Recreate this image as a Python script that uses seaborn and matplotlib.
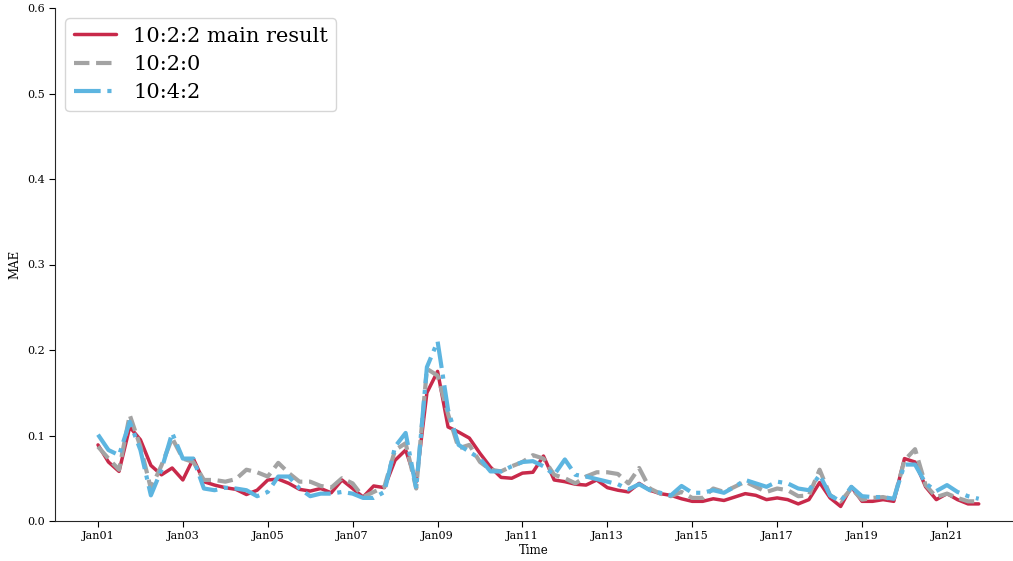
import numpy as np
import pandas as pd
import matplotlib
matplotlib.use("Agg")
import matplotlib.pyplot as plt
import matplotlib.dates as mdates
import seaborn as sns

# Quarterly evaluation dates, 2001Q1 - 2021Q4
dates = pd.date_range("2001-01-01", periods=84, freq="QS")

# Mean absolute error for each split ratio
mae_main = [
    0.089, 0.069, 0.058, 0.110, 0.095, 0.065, 0.054, 0.062, 0.048, 0.073,
    0.046, 0.042, 0.039, 0.037, 0.031, 0.036, 0.048, 0.049, 0.044, 0.037,
    0.035, 0.038, 0.033, 0.048, 0.038, 0.028, 0.041, 0.039, 0.071, 0.083,
    0.046, 0.150, 0.175, 0.110, 0.104, 0.097, 0.079, 0.063, 0.051, 0.050,
    0.056, 0.057, 0.076, 0.048, 0.046, 0.043, 0.042, 0.048, 0.039, 0.036,
    0.034, 0.044, 0.036, 0.032, 0.030, 0.026, 0.023, 0.023, 0.026, 0.024,
    0.028, 0.032, 0.030, 0.025, 0.027, 0.025, 0.020, 0.025, 0.045, 0.027,
    0.017, 0.040, 0.023, 0.023, 0.025, 0.023, 0.073, 0.069, 0.040, 0.025,
    0.032, 0.025, 0.020, 0.020,
]
mae_1020 = [
    0.087, 0.073, 0.060, 0.124, 0.087, 0.038, 0.065, 0.097, 0.073, 0.069,
    0.048, 0.048, 0.046, 0.049, 0.060, 0.057, 0.052, 0.068, 0.056, 0.046,
    0.046, 0.041, 0.039, 0.050, 0.044, 0.028, 0.034, 0.040, 0.083, 0.091,
    0.038, 0.178, 0.170, 0.125, 0.085, 0.089, 0.069, 0.060, 0.058, 0.064,
    0.069, 0.077, 0.073, 0.054, 0.050, 0.044, 0.052, 0.057, 0.057, 0.055,
    0.044, 0.062, 0.038, 0.032, 0.029, 0.034, 0.027, 0.027, 0.038, 0.034,
    0.040, 0.046, 0.040, 0.034, 0.038, 0.036, 0.029, 0.030, 0.060, 0.030,
    0.023, 0.038, 0.025, 0.027, 0.028, 0.025, 0.071, 0.084, 0.042, 0.028,
    0.032, 0.027, 0.023, 0.023,
]
mae_1042 = [
    0.101, 0.083, 0.077, 0.116, 0.083, 0.030, 0.060, 0.103, 0.073, 0.073,
    0.038, 0.036, 0.039, 0.038, 0.036, 0.029, 0.034, 0.052, 0.052, 0.038,
    0.029, 0.032, 0.032, 0.034, 0.032, 0.027, 0.027, 0.034, 0.087, 0.103,
    0.038, 0.180, 0.210, 0.130, 0.089, 0.081, 0.073, 0.058, 0.058, 0.064,
    0.069, 0.070, 0.064, 0.054, 0.072, 0.054, 0.052, 0.049, 0.046, 0.043,
    0.037, 0.043, 0.036, 0.033, 0.030, 0.041, 0.033, 0.033, 0.036, 0.033,
    0.040, 0.048, 0.044, 0.040, 0.046, 0.044, 0.038, 0.036, 0.054, 0.030,
    0.023, 0.040, 0.029, 0.028, 0.028, 0.026, 0.066, 0.066, 0.044, 0.035,
    0.042, 0.034, 0.029, 0.026,
]

series_labels = ["10:2:2 main result", "10:2:0", "10:4:2"]
series_colors = ["#C8294A", "#A3A3A3", "#5DB5E0"]
series_styles = ["-", "--", "-."]
series_widths = [2.5, 3.0, 3.0]

# Date ticks every other January, starting 2001
tick_dates = pd.date_range("2001-01-01", "2021-01-01", freq="2YS")
y_ticks = [0.0, 0.1, 0.2, 0.3, 0.4, 0.5, 0.6]

sns.set_style("ticks")
plt.rcParams["font.family"] = ["DejaVu Serif"]
plt.rcParams["text.color"] = "black"
plt.rcParams["axes.labelcolor"] = "black"
plt.rcParams["xtick.color"] = "black"
plt.rcParams["ytick.color"] = "black"

fig = plt.figure(figsize=(10.13, 5.61), dpi=100)
ax = fig.add_axes([55 / 1013, 1 - 521 / 561, (1012 - 55) / 1013, (521 - 8) / 561])

for values, label, color, ls, lw in zip(
    [mae_main, mae_1020, mae_1042], series_labels, series_colors, series_styles, series_widths
):
    sns.lineplot(x=dates, y=values, ax=ax, label=label, color=color,
                 linestyle=ls, linewidth=lw)

sns.despine(ax=ax)

# x limits: Jan01 sits 43 px in from the left spine (about 42.45 px per year)
left = mdates.date2num(pd.Timestamp("2001-01-01")) - 43 / 42.45 * 365.25
right = mdates.date2num(pd.Timestamp("2021-01-01")) + 65 / 42.45 * 365.25
ax.set_xlim(left, right)
ax.set_ylim(0, 0.6)
ax.set_yticks(y_ticks)
ax.yaxis.set_major_formatter(matplotlib.ticker.FormatStrFormatter("%.1f"))

ax.set_xticks(mdates.date2num(tick_dates))
ax.xaxis.set_major_formatter(mdates.DateFormatter("%b%y"))
ax.tick_params(labelsize=8, length=4)

ax.set_xlabel("Time", fontsize=8.5, labelpad=2)
ax.set_ylabel("MAE", fontsize=8.5)

ax.legend(loc="upper left", fontsize=15, handlelength=2.05, frameon=True,
          borderaxespad=0.5, labelspacing=0.45)

fig.savefig("out.png", dpi=100)
